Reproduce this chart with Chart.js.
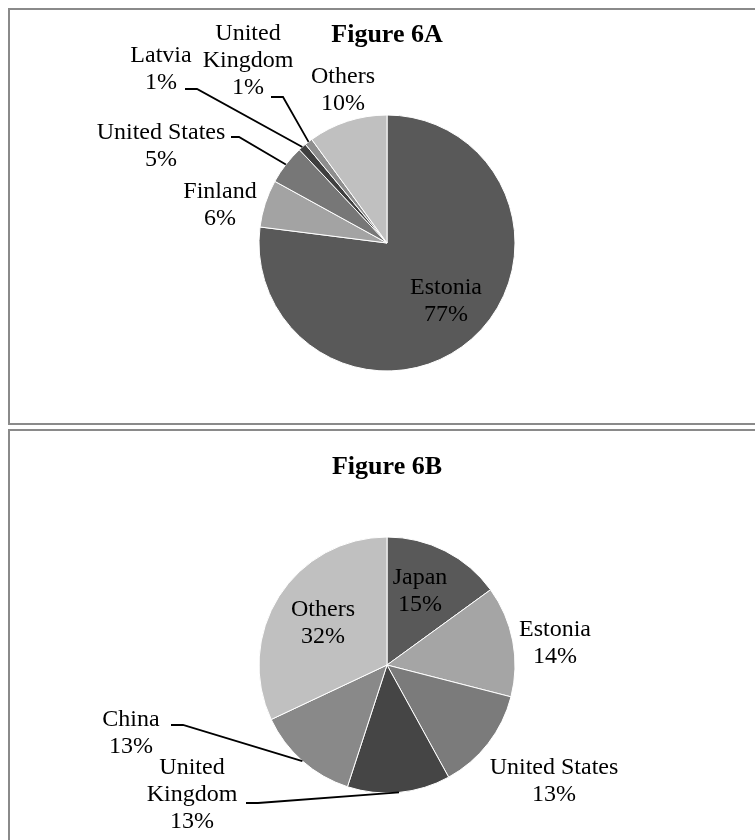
<!DOCTYPE html>
<html>
<head>
<meta charset="utf-8">
<script src="https://cdn.jsdelivr.net/npm/chart.js@4.4.0/dist/chart.umd.min.js"></script>
<style>
  body { margin: 0; background: #fff; overflow: hidden; }
  .panel { position: absolute; left: 8px; width: 800px; border: 2px solid #8a8a8a; }
  #panelA { top: 8px; height: 413px; }
  #panelB { top: 429px; height: 430px; }
  canvas { position: absolute; left: 0; top: 0; }
</style>
</head>
<body>
<div class="panel" id="panelA"><canvas id="fig6a" width="745" height="413"></canvas></div>
<div class="panel" id="panelB"><canvas id="fig6b" width="745" height="409"></canvas></div>
<script>
// Figure 6A
const countriesA = ['Estonia', 'Finland', 'United States', 'Latvia', 'United Kingdom', 'Others'];
const sharesA = [77, 6, 5, 1, 1, 10];
// Figure 6B
const countriesB = ['Japan', 'Estonia', 'United States', 'United Kingdom', 'China', 'Others'];
const sharesB = [15, 14, 13, 13, 13, 32];

const colorsA = ['#595959', '#a3a3a3', '#777777', '#3f3f3f', '#8e8e8e', '#c0c0c0'];
const colorsB = ['#595959', '#a5a5a5', '#7b7b7b', '#454545', '#898989', '#c0c0c0'];

const SERIF = '"Liberation Serif", "Times New Roman", serif';
const LINE_H = 27;

// names that break onto two lines
const wrapNames = { 'United Kingdom': ['United', 'Kingdom'] };

// label spots relative to the pie centre; leader = [stubStartX, stubStartY, elbowX, elbowY]
const spotsA = [
  { dx: 59, dy: 58 },
  { dx: -167, dy: -38 },
  { dx: -226, dy: -97, leader: [-156, -106, -148, -106] },
  { dx: -226, dy: -174, leader: [-202, -154, -190, -154] },
  { dx: -139, dy: -182, leader: [-116, -146, -104, -146] },
  { dx: -44, dy: -153 },
];
const spotsB = [
  { dx: 33, dy: -74 },
  { dx: 168, dy: -22 },
  { dx: 167, dy: 116 },
  { dx: -195, dy: 130, leader: [-141, 138, -129, 138] },
  { dx: -256, dy: 68, leader: [-216, 60, -204, 60] },
  { dx: -64, dy: -42 },
];

const pieLabels = {
  id: 'pieLabels',
  afterDatasetsDraw(chart, args, opts) {
    const ctx = chart.ctx;
    const meta = chart.getDatasetMeta(0);
    const values = chart.data.datasets[0].data;
    const total = values.reduce((a, b) => a + b, 0);
    ctx.save();
    ctx.fillStyle = '#000';
    ctx.strokeStyle = '#000';
    ctx.lineWidth = 1.8;
    ctx.textAlign = 'center';
    ctx.textBaseline = 'middle';
    ctx.font = '24px ' + SERIF;
    meta.data.forEach((arc, i) => {
      const { x, y, startAngle, endAngle, outerRadius } =
        arc.getProps(['x', 'y', 'startAngle', 'endAngle', 'outerRadius'], true);
      const spot = opts.spots[i];
      const name = chart.data.labels[i];
      const lines = (wrapNames[name] || [name]).concat(Math.round(values[i] / total * 100) + '%');
      const cx = x + spot.dx, cy = y + spot.dy;
      lines.forEach((t, k) => {
        ctx.fillText(t, cx, cy + (k - (lines.length - 1) / 2) * LINE_H);
      });
      if (spot.leader) {
        const mid = (startAngle + endAngle) / 2;
        const [sx, sy, ex, ey] = spot.leader;
        ctx.beginPath();
        ctx.moveTo(x + sx, y + sy);
        ctx.lineTo(x + ex, y + ey);
        ctx.lineTo(x + Math.cos(mid) * outerRadius, y + Math.sin(mid) * outerRadius);
        ctx.stroke();
      }
    });
    ctx.font = 'bold 26px ' + SERIF;
    ctx.fillText(opts.title, meta.data[0].x, opts.titleY);
    ctx.restore();
  }
};

function makePie(id, labels, values, colors, padding, title, titleY, spots) {
  return new Chart(document.getElementById(id).getContext('2d'), {
    type: 'pie',
    data: {
      labels: labels,
      datasets: [{
        data: values,
        backgroundColor: colors,
        borderColor: '#ffffff',
        borderWidth: 1,
        hoverOffset: 0,
      }],
    },
    options: {
      responsive: false,
      animation: false,
      radius: 128,
      layout: { padding: padding },
      plugins: {
        legend: { display: false },
        tooltip: { enabled: false },
        pieLabels: { title: title, titleY: titleY, spots: spots },
      },
    },
    plugins: [pieLabels],
  });
}

makePie('fig6a', countriesA, sharesA, colorsA, { left: 9, right: 0, top: 53, bottom: 0 }, 'Figure 6A', 25, spotsA);
makePie('fig6b', countriesB, sharesB, colorsB, { left: 9, right: 0, top: 59, bottom: 0 }, 'Figure 6B', 36, spotsB);
</script>
</body>
</html>
